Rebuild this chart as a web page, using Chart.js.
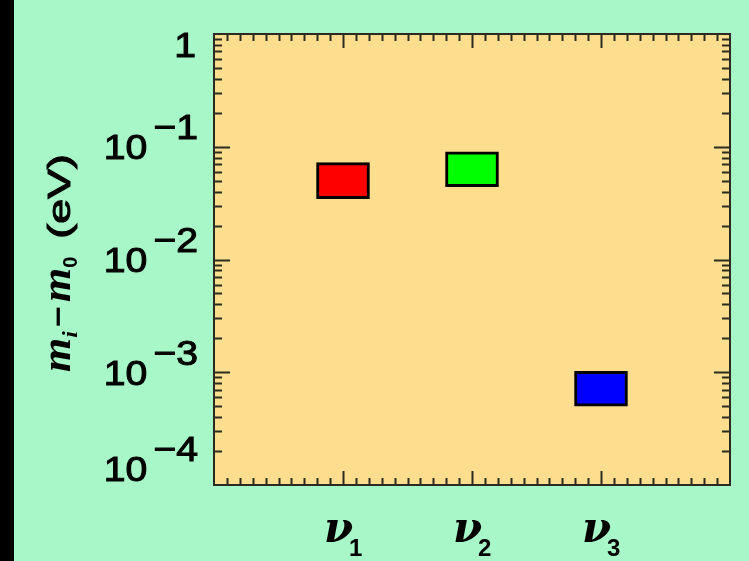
<!DOCTYPE html>
<html>
<head>
<meta charset="utf-8">
<script src="https://cdn.jsdelivr.net/npm/chart.js@4"></script>
<style>
  body { margin: 0; background: #a8f7c9; }
  #caixa { width: 749px; height: 561px; }
</style>
</head>
<body>
<div id="caixa"><canvas id="grafico" width="749" height="561"></canvas></div>
<script>
// dados
var categorias = [1, 2, 3];
var simbolos = ['ν', 'ν', 'ν'];
var indices = ['1', '2', '3'];
var massaMin = [0.0346, 0.0443, 0.00050];
var massaMax = [0.0722, 0.0903, 0.00102];
var cores = ['#ff0000', '#00ff00', '#0000ff'];
var potencias = [0, -1, -2, -3, -4];
var rotulosBase = ['1', '10', '10', '10', '10'];
var rotulosExp = ['', '−1', '−2', '−3', '−4'];

var COR_EIXO = '#2b2b22';

// escreve texto esticado na horizontal (contorno opcional para engrossar)
function texto(c, t, x, y, fonte, sx, alinhar, grosso) {
    c.save();
    c.font = fonte;
    var w = c.measureText(t).width * sx;
    var x0 = alinhar === 'right' ? x - w : (alinhar === 'center' ? x - w / 2 : x);
    c.translate(x0, y);
    c.scale(sx, 1);
    c.textAlign = 'left';
    c.fillText(t, 0, 0);
    if (grosso) {
        c.strokeStyle = c.fillStyle;
        c.lineWidth = grosso;
        c.strokeText(t, 0, 0);
    }
    c.restore();
    return w;
}

function largura(c, t, fonte, sx) {
    c.save();
    c.font = fonte;
    var w = c.measureText(t).width * sx;
    c.restore();
    return w;
}

var moldura = {
    id: 'moldura',
    beforeDraw: function (chart) {
        var c = chart.ctx, a = chart.chartArea;
        c.save();
        c.fillStyle = '#a8f7c9';
        c.fillRect(0, 0, chart.width, chart.height);
        c.fillStyle = '#000';
        c.fillRect(0, 0, 14, chart.height);
        c.fillStyle = '#fdde8e';
        c.fillRect(a.left, a.top, a.right - a.left, a.bottom - a.top);
        c.restore();
    },
    afterDraw: function (chart) {
        var c = chart.ctx, a = chart.chartArea;
        var xs = chart.scales.x, ys = chart.scales.y;
        c.save();
        c.strokeStyle = COR_EIXO;
        c.lineWidth = 2;
        c.beginPath();
        // marcas do eixo x (embaixo e em cima)
        for (var k = 1; k < 40; k++) {
            var px = Math.round(xs.getPixelForValue(k / 10)) + 0.5;
            var len = k % 10 === 0 ? 14 : 7;
            c.moveTo(px, a.bottom); c.lineTo(px, a.bottom - len);
            c.moveTo(px, a.top); c.lineTo(px, a.top + len);
        }
        // marcas do eixo y logaritmico (esquerda e direita)
        for (var e = -4; e < 0; e++) {
            for (var m = 1; m <= 9; m++) {
                if (e === -4 && m === 1) continue;
                var py = Math.round(ys.getPixelForValue(m * Math.pow(10, e))) + 0.5;
                var l = m === 1 ? 16 : 8;
                c.moveTo(a.left, py); c.lineTo(a.left + l, py);
                c.moveTo(a.right, py); c.lineTo(a.right - l, py);
            }
        }
        c.stroke();
        c.strokeRect(a.left, a.top, a.right - a.left, a.bottom - a.top);

        // rotulos do eixo y
        c.fillStyle = '#000';
        c.textBaseline = 'middle';
        var fonteNum = '35px "Liberation Sans"';
        for (var i = 0; i < potencias.length; i++) {
            var ty = ys.getPixelForValue(Math.pow(10, potencias[i]));
            var cy = Math.min(Math.max(ty + 3, a.top + 13), a.bottom - 14);
            var xr = a.left - 16;
            if (rotulosExp[i]) {
                var we = texto(c, rotulosExp[i], xr, cy - 20, fonteNum, 1.12, 'right', 1);
                texto(c, rotulosBase[i], xr - we - 6, cy, fonteNum, 1.12, 'right', 1);
            } else {
                texto(c, rotulosBase[i], xr - 2, cy, fonteNum, 1.12, 'right', 1);
            }
        }

        // rotulos do eixo x
        c.textBaseline = 'alphabetic';
        for (var j = 0; j < categorias.length; j++) {
            var cx = xs.getPixelForValue(categorias[j]);
            texto(c, simbolos[j], cx - 19, 542, 'italic bold 42px "DejaVu Serif"', 1.0, 'left');
            texto(c, indices[j], cx + 6, 556, 'bold 24px "Liberation Sans"', 1.0, 'left');
        }

        // titulo do eixo y
        var partes = [
            { t: 'm', f: 'italic bold 40px "Liberation Serif"', sx: 1.1, dy: 0, gap: 0, g: 0 },
            { t: 'i', f: 'italic bold 22px "Liberation Serif"', sx: 1.1, dy: 7, gap: 4, g: 0 },
            { t: '−', f: 'bold 30px "Liberation Sans"', sx: 1.2, dy: -2, gap: 4, g: 0 },
            { t: 'm', f: 'italic bold 40px "Liberation Serif"', sx: 1.1, dy: 0, gap: 0, g: 0 },
            { t: '0', f: 'bold 20px "Liberation Sans"', sx: 1.0, dy: 7, gap: 18, g: 0 },
            { t: '(eV)', f: '32px "Liberation Sans"', sx: 1.4, dy: 0, gap: 0, g: 1 }
        ];
        var total = 0;
        partes.forEach(function (p) { total += largura(c, p.t, p.f, p.sx) + p.gap; });
        c.save();
        c.translate(70, 263);
        c.rotate(-Math.PI / 2);
        var x = -total / 2;
        partes.forEach(function (p) {
            x += texto(c, p.t, x, p.dy, p.f, p.sx, 'left', p.g) + p.gap;
        });
        c.restore();
        c.restore();
    }
};

var ctx = document.getElementById('grafico').getContext('2d');
var chart = new Chart(ctx, {
    type: 'bar',
    data: {
        datasets: [{
            data: categorias.map(function (x, i) { return { x: x, y: [massaMin[i], massaMax[i]] }; }),
            backgroundColor: cores,
            borderColor: '#000',
            borderWidth: 3,
            borderSkipped: false,
            barThickness: 53
        }]
    },
    options: {
        responsive: false,
        animation: false,
        layout: { padding: { left: 214, right: 19, top: 34, bottom: 76 } },
        plugins: {
            legend: { display: false },
            tooltip: { enabled: false }
        },
        scales: {
            x: { type: 'linear', min: 0, max: 4, offset: false, display: false },
            y: { type: 'logarithmic', min: 1e-4, max: 1, display: false }
        }
    },
    plugins: [moldura]
});
</script>
</body>
</html>
